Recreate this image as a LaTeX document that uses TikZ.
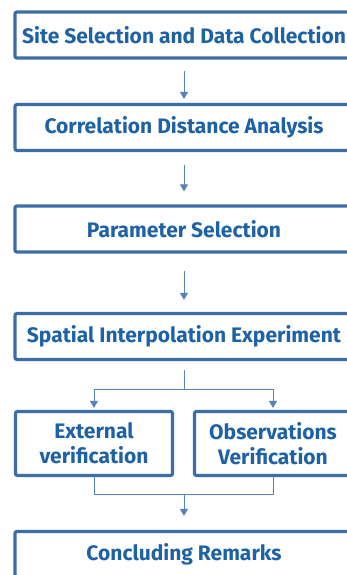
\documentclass[tikz,border=0pt]{standalone}
\usepackage{fontspec}
\setmainfont{Fira Sans}
\usepackage{tikz}
\usetikzlibrary{arrows.meta, positioning}

\definecolor{boxblue}{HTML}{3B6DA7}
\definecolor{textblue}{HTML}{1E62A6}
\definecolor{lineblue}{HTML}{5483B9}

\tikzset{
    stage/.style={rectangle, draw=boxblue, line width=3.2pt, rounded corners=2pt, fill=white,
        text=textblue, font=\fontsize{21}{25}\selectfont\bfseries, align=center,
        minimum width=338pt, minimum height=46pt, inner sep=0pt},
    check/.style={stage, minimum width=157pt, minimum height=64pt},
    flow/.style={draw=lineblue, line width=1pt},
    flowarrow/.style={flow, -{Triangle[length=7pt, width=8pt]}}
}

\begin{document}
\begin{tikzpicture}[x=1pt, y=1pt]
        \clip (0, 0) rectangle (347, -575);
        \fill[white] (0, 0) rectangle (347, -575);

        \node[stage] (site) at (184, -35) {Site Selection and Data Collection};
        \node[stage] (corr) at (184, -127.5) {Correlation Distance Analysis};
        \node[stage] (param) at (184, -229) {Parameter Selection};
        \node[stage] (interp) at (184, -336.5) {Spatial Interpolation Experiment};
        \node[check] (ext) at (94, -443.5) {External\\verification};
        \node[check] (obs) at (273, -443.5) {Observations\\Verification};
        \node[stage] (remarks) at (184, -554.5) {Concluding Remarks};

        \coordinate (split) at (184, -389);
        \coordinate (merge) at (184, -494);

        \draw[flowarrow, shorten <=11pt, shorten >=4pt] (site) -- (corr);
        \draw[flowarrow, shorten <=13pt, shorten >=13pt] (corr) -- (param);
        \draw[flowarrow, shorten <=17pt, shorten >=12pt] (param) -- (interp);

        \draw[flow, shorten <=9pt] (interp) -- (split);
        \draw[flowarrow, shorten >=2pt] (split) -| (ext);
        \draw[flowarrow, shorten >=2pt] (split) -| (obs);

        \draw[flow] (ext) |- (merge);
        \draw[flow] (obs) |- (merge);
        \draw[flowarrow, shorten >=14pt] (merge) -- (remarks);
    \end{tikzpicture}
\end{document}
